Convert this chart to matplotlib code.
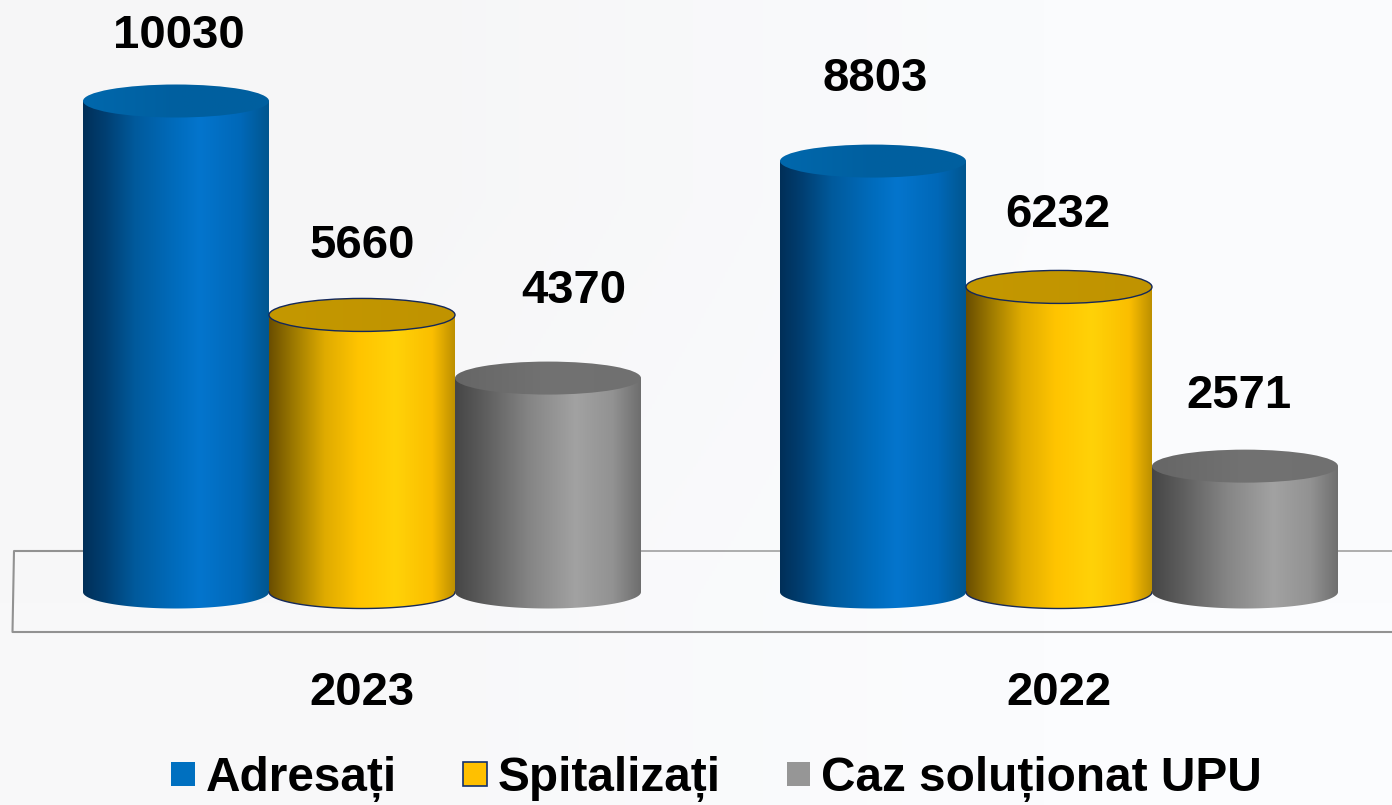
import numpy as np
import matplotlib
matplotlib.use("Agg")
import matplotlib.pyplot as plt
from matplotlib.colors import LinearSegmentedColormap
from matplotlib.lines import Line2D
from matplotlib.patches import Ellipse, Patch, PathPatch
from matplotlib.path import Path

# ---- data ----
years = ["2023", "2022"]
series_names = ["Adresați", "Spitalizați", "Caz soluționat UPU"]
adresati = [10030, 8803]
spitalizati = [5660, 6232]
caz_solutionat = [4370, 2571]
series_values = [adresati, spitalizati, caz_solutionat]

# ---- style ----
W, H = 1392, 805
plt.rcParams["font.family"] = ["Liberation Sans", "DejaVu Sans"]
BASE_PX = 592.0
FLOOR_PX = 632.0
PX_PER_UNIT = 491.0 / 10030
GROUP_PX = 697.0
GROUP0_PX = 362.0
BAR_WIDTH = 186.0 / GROUP_PX
ELL_H = 33.0 / PX_PER_UNIT  # full ellipse height in data units

stops = [
    [(0, "#002f58"), (.12, "#003f72"), (.28, "#005a9c"), (.5, "#006cbd"),
     (.63, "#0475cd"), (.85, "#0068b8"), (1, "#00568f")],
    [(0, "#6a4e00"), (.14, "#a07c00"), (.3, "#dfab00"), (.48, "#ffc400"),
     (.68, "#ffd208"), (.88, "#fbbe00"), (1, "#bd9000")],
    [(0, "#464646"), (.15, "#5c5c5c"), (.4, "#858585"), (.65, "#a2a2a2"),
     (.85, "#929292"), (1, "#6e6e6e")],
]
top_stops = [
    [(0, "#0068ad"), (.5, "#005f9f"), (1, "#00609f")],
    [(0, "#c49800"), (1, "#c09300")],
    [(0, "#666666"), (.5, "#727272"), (1, "#707070")],
]
legend_colors = ["#0070c0", "#ffc000", "#969696"]
legend_edges = ["none", "#12306e", "none"]
outline = [None, "#14285a", None]
# pixel offsets of the value labels from the top of each cylinder, by series then year
label_dx = [[3, 2], [0, -1], [26, -6]]
label_dy = [[65, 82], [69, 72], [87, 70]]

fig = plt.figure(figsize=(W / 100, H / 100), dpi=100)

# background
bg = fig.add_axes([0, 0, 1, 1], zorder=-2)
bg.imshow(np.array([[[246, 246, 247], [250, 251, 253]],
                    [[248, 248, 249], [251, 252, 254]]], dtype=np.uint8),
          aspect="auto", interpolation="bilinear", extent=(0, 1, 0, 1))
bg.axis("off")

# floor of the chart
floor_x = np.array([83, 14, 12.5, 1392]) / W
floor_y = 1 - np.array([551, 551, FLOOR_PX, FLOOR_PX]) / H
fig.add_artist(Line2D(floor_x, floor_y, color="#929292", lw=1.5, zorder=-1))
fig.add_artist(Line2D(np.array([641, 780]) / W, 1 - np.array([551, 551]) / H,
                      color="#a0a0a0", lw=1.2, zorder=-1))
fig.add_artist(Line2D(np.array([1338, 1392]) / W, 1 - np.array([551, 551]) / H,
                      color="#a0a0a0", lw=1.2, zorder=-1))

# plot axes: the bottom edge sits on the front of the floor
ax = fig.add_axes([0, 1 - FLOOR_PX / H, 1, FLOOR_PX / H])
ax.patch.set_alpha(0)
xlim = (-GROUP0_PX / GROUP_PX, (W - GROUP0_PX) / GROUP_PX)
ylim = (-(FLOOR_PX - BASE_PX) / PX_PER_UNIT, BASE_PX / PX_PER_UNIT)

centers = np.arange(len(years))
t = np.linspace(0, np.pi, 80)
z = 2
for s, values in enumerate(series_values):
    cmap = LinearSegmentedColormap.from_list(f"c{s}", stops[s])
    tcmap = LinearSegmentedColormap.from_list(f"t{s}", top_stops[s])
    grad = np.linspace(0, 1, 256)[None, :]
    for g, v in enumerate(values):
        xc = centers[g] + (s - 1) * BAR_WIDTH
        x0, x1 = xc - BAR_WIDTH / 2, xc + BAR_WIDTH / 2
        # front bottom arc, then up the right side and back across the top
        ax_x = xc - np.cos(t) * BAR_WIDTH / 2
        ax_y = -np.sin(t) * ELL_H / 2
        px = np.r_[ax_x, x1, x0, x0]
        py = np.r_[ax_y, v, v, 0]
        body = PathPatch(Path(np.c_[px, py]), fc="none", ec="none", zorder=z)
        ax.add_patch(body)
        im = ax.imshow(grad, cmap=cmap, aspect="auto", zorder=z,
                       extent=(x0, x1, -ELL_H * 0.6, v), interpolation="bilinear")
        im.set_clip_path(body)
        if outline[s]:
            ax.plot(ax_x, ax_y, color=outline[s], lw=1.0, zorder=z + 0.1)
        ell = Ellipse((xc, v), BAR_WIDTH, ELL_H, fc="none", ec="none", zorder=z + 0.2)
        ax.add_patch(ell)
        tim = ax.imshow(grad, cmap=tcmap, aspect="auto", zorder=z + 0.2,
                        extent=(x0, x1, v - ELL_H * 0.6, v + ELL_H * 0.6),
                        interpolation="bilinear")
        tim.set_clip_path(ell)
        if outline[s]:
            ax.add_patch(Ellipse((xc, v), BAR_WIDTH, ELL_H, fc="none",
                                 ec=outline[s], lw=1.0, zorder=z + 0.3))
        ax.annotate(str(v), (xc, v), xytext=(label_dx[s][g], label_dy[s][g]),
                    textcoords="offset pixels", ha="center", va="center",
                    fontsize=34, fontweight="bold", color="black", zorder=10)
        z += 1

ax.set_xlim(*xlim)
ax.set_ylim(*ylim)
ax.set_xticks(centers, years)
ax.set_yticks([])
ax.tick_params(axis="x", length=0, pad=28, labelsize=34, labelcolor="black")
for lab in ax.get_xticklabels():
    lab.set_fontweight("bold")
for sp in ax.spines.values():
    sp.set_visible(False)

# legend
handles = [Patch(fc=c, ec=e, lw=1.2) for c, e in zip(legend_colors, legend_edges)]
fig.legend(handles, series_names, ncol=3, loc="center",
           bbox_to_anchor=(716.5 / W, 1 - 779 / H), frameon=False,
           prop={"size": 34.4, "weight": "bold"}, handlelength=0.5, handleheight=0.397,
           handletextpad=0.23, columnspacing=1.38, borderpad=0, borderaxespad=0)

fig.savefig("out.png", dpi=100)
